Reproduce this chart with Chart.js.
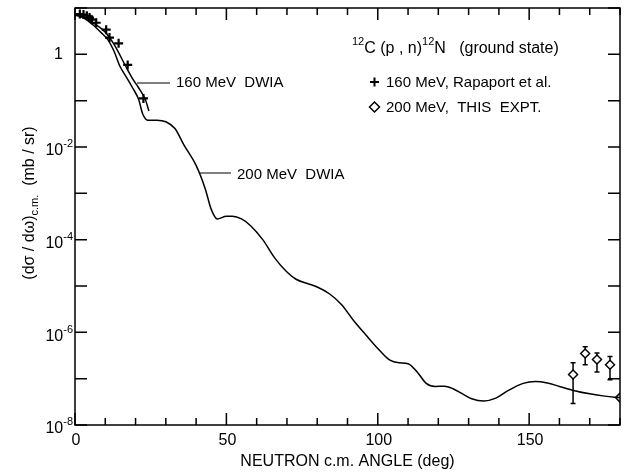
<!DOCTYPE html>
<html>
<head>
<meta charset="utf-8">
<script src="https://cdn.jsdelivr.net/npm/chart.js@4/dist/chart.umd.min.js"></script>
<style>
  html, body { margin: 0; padding: 0; background: #fff; }
  canvas { display: block; }
</style>
</head>
<body>
<canvas id="xsChart" width="630" height="476"></canvas>
<script>
// 200 MeV DWIA curve (angle in deg, dsigma/domega in mb/sr)
const dwia200Angles = [0, 3, 6, 8.5, 11, 13, 14.8, 17, 19, 21, 22.4, 24, 27, 30, 33, 36, 40, 43, 45, 47,
  50, 52, 55, 58, 62, 66, 70, 73, 77, 80, 84, 88, 92, 96, 100, 104, 107, 110, 113, 116,
  119, 122, 125, 128, 131, 135, 139, 143, 148, 152, 156, 160, 165, 170, 175, 180];
const dwia200Values = [7.1, 6.0, 4.3, 3.0, 2.0, 1.12, 0.56, 0.32, 0.19, 0.107, 0.051, 0.038, 0.038, 0.035, 0.025, 0.011, 4.0e-3, 1.26e-3, 4.5e-4, 2.8e-4,
  3.2e-4, 3.2e-4, 2.8e-4, 2.0e-4, 1.0e-4, 4.0e-5, 2.0e-5, 1.4e-5, 1.12e-5, 9.5e-6, 6.8e-6, 4.0e-6, 1.8e-6, 8.9e-7, 4.5e-7, 2.5e-7, 2.2e-7, 2.1e-7, 1.4e-7, 7.9e-8,
  6.8e-8, 6.9e-8, 6.0e-8, 4.7e-8, 3.7e-8, 3.3e-8, 3.8e-8, 5.5e-8, 7.9e-8, 8.7e-8, 8.1e-8, 6.8e-8, 5.5e-8, 4.7e-8, 4.2e-8, 3.9e-8];

// 160 MeV DWIA curve
const dwia160Angles = [0, 3, 6, 10, 13, 16.7, 19, 21, 23.2, 24.4];
const dwia160Values = [7.1, 6.3, 4.8, 3.0, 1.6, 0.56, 0.3, 0.19, 0.107, 0.06];

// 160 MeV data, Rapaport et al.
const rapaportAngles = [1.6, 2.8, 3.9, 4.8, 5.6, 7.0, 10.3, 11.4, 14.4, 17.4, 22.6];
const rapaportValues = [7.4, 7.2, 6.8, 6.2, 5.6, 4.8, 3.4, 2.3, 1.73, 0.59, 0.112];

// 200 MeV data, this experiment
const exptAngles = [164.5, 168.5, 172.4, 176.7, 180];
const exptValues = [1.23e-7, 3.5e-7, 2.6e-7, 2.0e-7, 3.9e-8];
const exptErrLow = [2.9e-8, 2.0e-7, 1.4e-7, 9.5e-8, null];
const exptErrHigh = [2.2e-7, 4.9e-7, 3.6e-7, 3.0e-7, null];

// axis ticks
const xTicks = [0, 10, 20, 30, 40, 50, 60, 70, 80, 90, 100, 110, 120, 130, 140, 150, 160, 170, 180];
const xLabelValues = [0, 50, 100, 150];
const xLabels = ['0', '50', '100', '150'];
const yTicks = [10, 1, 1e-1, 1e-2, 1e-3, 1e-4, 1e-5, 1e-6, 1e-7, 1e-8];
const yLabelValues = [1, 1e-2, 1e-4, 1e-6, 1e-8];
const yLabelExps = ['', '-2', '-4', '-6', '-8'];

const FONT = "'Liberation Sans', Arial, Helvetica, sans-serif";

function toPoints(xs, ys) {
  return xs.map((x, i) => ({ x: x, y: ys[i] }));
}

// draw text made of normal / superscript / subscript pieces
function runsWidth(ctx, runs, size) {
  let w = 0;
  runs.forEach(r => {
    ctx.font = (r.sup || r.sub ? Math.round(size * 0.7) : size) + 'px ' + FONT;
    w += ctx.measureText(r.t).width;
  });
  return w;
}
function drawRuns(ctx, x, y, runs, size) {
  ctx.textAlign = 'left';
  ctx.textBaseline = 'middle';
  runs.forEach(r => {
    const small = r.sup || r.sub;
    ctx.font = (small ? Math.round(size * 0.7) : size) + 'px ' + FONT;
    let dy = 0;
    if (r.sup) dy = -size * 0.42;
    if (r.sub) dy = size * 0.3;
    ctx.fillText(r.t, x, y + dy);
    x += ctx.measureText(r.t).width;
  });
  return x;
}

const errorBars = {
  id: 'errorBars',
  beforeDatasetsDraw(chart) {
    const ctx = chart.ctx;
    const xs = chart.scales.x, ys = chart.scales.y;
    ctx.save();
    ctx.strokeStyle = '#000';
    ctx.lineWidth = 1.5;
    exptAngles.forEach((a, i) => {
      if (exptErrLow[i] == null) return;
      const px = xs.getPixelForValue(a);
      const y1 = ys.getPixelForValue(exptErrLow[i]);
      const y2 = ys.getPixelForValue(exptErrHigh[i]);
      ctx.beginPath();
      ctx.moveTo(px, y1); ctx.lineTo(px, y2);
      ctx.moveTo(px - 2.5, y1); ctx.lineTo(px + 2.5, y1);
      ctx.moveTo(px - 2.5, y2); ctx.lineTo(px + 2.5, y2);
      ctx.stroke();
    });
    ctx.restore();
  }
};

const frameAndText = {
  id: 'frameAndText',
  afterDraw(chart) {
    const ctx = chart.ctx;
    const area = chart.chartArea;
    const xs = chart.scales.x, ys = chart.scales.y;
    ctx.save();
    ctx.strokeStyle = '#000';
    ctx.fillStyle = '#000';
    ctx.lineWidth = 1.5;
    ctx.strokeRect(area.left, area.top, area.right - area.left, area.bottom - area.top);

    // inward ticks
    ctx.beginPath();
    xTicks.forEach(v => {
      const px = xs.getPixelForValue(v);
      const len = v % 50 === 0 ? 12 : 7;
      ctx.moveTo(px, area.bottom); ctx.lineTo(px, area.bottom - len);
      ctx.moveTo(px, area.top); ctx.lineTo(px, area.top + len);
    });
    yTicks.forEach(v => {
      const py = ys.getPixelForValue(v);
      ctx.moveTo(area.left, py); ctx.lineTo(area.left + 12, py);
      ctx.moveTo(area.right, py); ctx.lineTo(area.right - 12, py);
    });
    ctx.stroke();

    // x tick labels
    ctx.font = '16px ' + FONT;
    ctx.textAlign = 'center';
    ctx.textBaseline = 'middle';
    xLabelValues.forEach((v, i) => {
      ctx.fillText(xLabels[i], xs.getPixelForValue(v) + 1, area.bottom + 16);
    });

    // y tick labels
    yLabelValues.forEach((v, i) => {
      const py = ys.getPixelForValue(v);
      if (yLabelExps[i] === '') {
        ctx.font = '16px ' + FONT;
        ctx.textAlign = 'right';
        ctx.fillText('1', area.left - 12, py);
      } else {
        const runs = [{ t: '10' }, { t: yLabelExps[i], sup: true }];
        const w = runsWidth(ctx, runs, 16);
        drawRuns(ctx, area.left - 2 - w, py + 4, runs, 16);
      }
    });

    // axis titles
    ctx.font = '16px ' + FONT;
    ctx.textAlign = 'center';
    ctx.fillText('NEUTRON c.m. ANGLE (deg)', (area.left + area.right) / 2, 462);

    const yTitle = [{ t: '(dσ / dω)' }, { t: 'c.m.', sub: true }, { t: '  (mb / sr)' }];
    ctx.save();
    ctx.translate(30, 203);
    ctx.rotate(-Math.PI / 2);
    drawRuns(ctx, -runsWidth(ctx, yTitle, 16) / 2, 0, yTitle, 16);
    ctx.restore();

    // reaction and key
    drawRuns(ctx, 352, 49, [
      { t: '12', sup: true }, { t: 'C (p , n)' }, { t: '12', sup: true }, { t: 'N   (ground state)' }
    ], 16);
    ctx.lineWidth = 2;
    ctx.beginPath();
    ctx.moveTo(370, 82); ctx.lineTo(379, 82);
    ctx.moveTo(374.5, 77.5); ctx.lineTo(374.5, 86.5);
    ctx.stroke();
    drawRuns(ctx, 386, 83, [{ t: '160 MeV, Rapaport et al.' }], 15);
    ctx.lineWidth = 1.5;
    ctx.beginPath();
    ctx.moveTo(374.5, 102); ctx.lineTo(379.5, 107); ctx.lineTo(374.5, 112); ctx.lineTo(369.5, 107);
    ctx.closePath();
    ctx.stroke();
    drawRuns(ctx, 386, 108, [{ t: '200 MeV,  THIS  EXPT.' }], 15);

    // curve labels with leader lines
    ctx.lineWidth = 1.2;
    ctx.beginPath();
    ctx.moveTo(137, 83); ctx.lineTo(170, 83);
    ctx.moveTo(200, 173); ctx.lineTo(231, 173);
    ctx.stroke();
    drawRuns(ctx, 176, 83, [{ t: '160 MeV  DWIA' }], 15);
    drawRuns(ctx, 237, 175, [{ t: '200 MeV  DWIA' }], 15);
    ctx.restore();
  }
};

const ctx = document.getElementById('xsChart').getContext('2d');
new Chart(ctx, {
  type: 'scatter',
  data: {
    datasets: [
      {
        label: '200 MeV DWIA',
        data: toPoints(dwia200Angles, dwia200Values),
        showLine: true,
        borderColor: '#000',
        borderWidth: 1.5,
        pointRadius: 0,
        cubicInterpolationMode: 'monotone'
      },
      {
        label: '160 MeV DWIA',
        data: toPoints(dwia160Angles, dwia160Values),
        showLine: true,
        borderColor: '#000',
        borderWidth: 1.5,
        pointRadius: 0,
        cubicInterpolationMode: 'monotone'
      },
      {
        label: '160 MeV, Rapaport et al.',
        data: toPoints(rapaportAngles, rapaportValues),
        pointStyle: 'cross',
        pointRadius: 4.5,
        borderColor: '#000',
        borderWidth: 2.2
      },
      {
        label: '200 MeV, THIS EXPT.',
        data: toPoints(exptAngles, exptValues),
        pointStyle: 'rectRot',
        pointRadius: 4.5,
        backgroundColor: '#fff',
        borderColor: '#000',
        borderWidth: 1.5,
        clip: 0
      }
    ]
  },
  options: {
    responsive: false,
    animation: false,
    events: [],
    layout: { padding: { left: 75, right: 10, top: 8, bottom: 51 } },
    plugins: { legend: { display: false }, tooltip: { enabled: false } },
    scales: {
      x: { type: 'linear', min: 0, max: 180, display: false },
      y: { type: 'logarithmic', min: 1e-8, max: 10, display: false }
    }
  },
  plugins: [errorBars, frameAndText]
});
</script>
</body>
</html>
